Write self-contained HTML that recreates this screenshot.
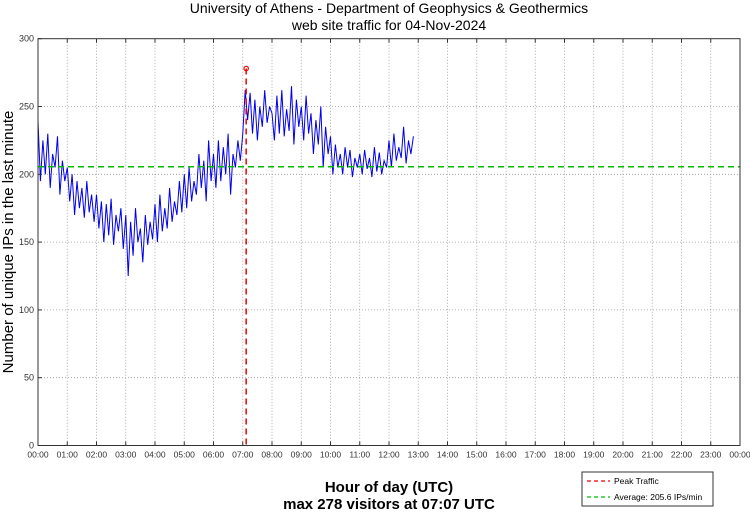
<!DOCTYPE html>
<html><head><meta charset="utf-8"><style>
body{margin:0;background:#fff;width:750px;height:511px;overflow:hidden;font-family:"Liberation Sans",sans-serif}
</style></head><body>
<svg id="chart" width="750" height="511" xmlns="http://www.w3.org/2000/svg" font-family="Liberation Sans, sans-serif">
<text x="389" y="13" text-anchor="middle" font-size="14">University of Athens - Department of Geophysics &amp; Geothermics</text>
<text x="389" y="30" text-anchor="middle" font-size="14">web site traffic for 04-Nov-2024</text>
<text transform="translate(13,242) rotate(-90)" text-anchor="middle" font-size="15">Number of unique IPs in the last minute</text>
<text x="389" y="492" text-anchor="middle" font-size="15" font-weight="bold">Hour of day (UTC)</text>
<text x="389" y="509" text-anchor="middle" font-size="15" font-weight="bold">max 278 visitors at 07:07 UTC</text>
<g id="grid"></g><g id="series"></g><g id="axes"></g>
<g>
<rect x="582" y="472" width="131" height="34" fill="#fff" stroke="#333" stroke-width="1"/>
<line x1="587" y1="481" x2="610" y2="481" stroke="#e00" stroke-width="1.3" stroke-dasharray="4,3"/>
<text x="614" y="484" font-size="8.5">Peak Traffic</text>
<line x1="587" y1="497" x2="610" y2="497" stroke="#0b0" stroke-width="1.3" stroke-dasharray="4,3"/>
<text x="614" y="500" font-size="8.5">Average: 205.6 IPs/min</text>
</g>
</svg>
<script>
const stepMinutes = 5;
const visitors = [
240,195,225,200,230,190,215,205,228,185,210,195,
205,180,200,170,195,175,190,168,195,172,185,165,
185,160,180,150,178,155,182,148,170,158,175,145,
170,125,165,140,175,150,160,135,170,148,165,152,
178,150,185,158,175,160,190,165,180,170,195,172,
200,175,205,180,195,185,215,190,210,180,225,195,
215,190,225,195,220,200,230,185,215,205,225,210,
230,262,240,260,230,255,225,250,235,262,238,250,
245,225,258,230,262,228,248,232,265,222,255,235,
250,225,258,230,245,215,240,222,250,205,235,215,
228,200,222,205,215,200,220,205,218,198,212,205,
215,200,218,204,212,198,220,202,216,200,210,205,
225,205,230,210,220,212,235,208,225,215,228];
const average = 205.6;
const peakMinute = 427;
const peakValue = 278;
const yTicks = [0,50,100,150,200,250,300];
const xTickLabels = ["00:00","01:00","02:00","03:00","04:00","05:00","06:00","07:00","08:00","09:00","10:00","11:00","12:00","13:00","14:00","15:00","16:00","17:00","18:00","19:00","20:00","21:00","22:00","23:00","00:00"];

const L=38,R=740,T=38.7,B=445.5;
const xs=m=>L+(R-L)*m/1440;
const ys=v=>B-(B-T)*v/300;
const NS="http://www.w3.org/2000/svg";
function mk(tag,attrs,parent){const e=document.createElementNS(NS,tag);for(const k in attrs)e.setAttribute(k,attrs[k]);document.getElementById(parent).appendChild(e);return e;}

yTicks.forEach(v=>{
  const y=ys(v);
  if(v>0&&v<300){const g=mk('line',{x1:L,x2:R,y1:y,y2:y,stroke:'#999','stroke-width':0.8,'stroke-dasharray':'1,2'},'grid');
  
  }
  const t=mk('text',{x:L-4,y:y+3,'text-anchor':'end','font-size':9,fill:'#333'},'axes');t.textContent=v;
  
  
  mk('line',{x1:L,x2:L+4,y1:y,y2:y,stroke:'#333'},'axes');
});
xTickLabels.forEach((lab,i)=>{
  const x=xs(i*60);
  if(i>0&&i<24){const g=mk('line',{x1:x,x2:x,y1:T,y2:B,stroke:'#999','stroke-width':0.8,'stroke-dasharray':'1,2'},'grid');
  
  }
  mk('line',{x1:x,x2:x,y1:B,y2:B-4,stroke:'#333'},'axes');
  mk('line',{x1:x,x2:x,y1:T,y2:T+4,stroke:'#333'},'axes');
  const t=mk('text',{x:x,y:B+12,'text-anchor':'middle','font-size':8.5,fill:'#333'},'axes');t.textContent=lab;
  
  
});
const frame=mk('rect',{x:L,y:T,width:R-L,height:B-T,fill:'none',stroke:'#333','stroke-width':1},'axes');



const pts=visitors.map((v,i)=>xs(i*stepMinutes).toFixed(1)+','+ys(v).toFixed(1)).join(' ');
const line=mk('polyline',{points:pts,fill:'none',stroke:'#0000ee','stroke-width':1},'series');



const avg=mk('line',{x1:L,x2:R,y1:ys(average),y2:ys(average),stroke:'#0b0','stroke-width':1.5,'stroke-dasharray':'6,4'},'series');


const pk=mk('line',{x1:xs(peakMinute),x2:xs(peakMinute),y1:ys(peakValue),y2:B,stroke:'#e00','stroke-width':1.5,'stroke-dasharray':'6,4'},'series');


const pm=mk('circle',{cx:xs(peakMinute),cy:ys(peakValue),r:2.2,fill:'none',stroke:'#e00','stroke-width':1.2},'series');


</script>
</body></html>
